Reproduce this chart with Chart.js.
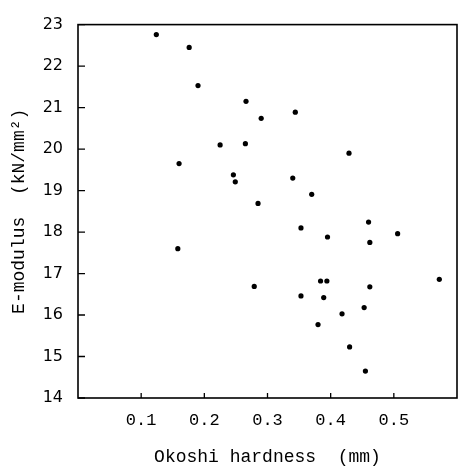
<!DOCTYPE html>
<html>
<head>
<meta charset="utf-8">
<script src="https://cdn.jsdelivr.net/npm/chart.js@4"></script>
<style>
  html, body { margin: 0; padding: 0; background: #fff; }
  #chart { display: block; }
</style>
</head>
<body>
<canvas id="chart" width="463" height="470"></canvas>
<script>
// values
const hardness = [
  0.124, 0.176, 0.19, 0.266, 0.29, 0.344, 0.225, 0.265, 0.16, 0.158, 0.246,
  0.249, 0.34, 0.37, 0.285, 0.353, 0.395, 0.429, 0.46, 0.506, 0.462, 0.279,
  0.384, 0.394, 0.353, 0.389, 0.38, 0.462, 0.453, 0.418, 0.572, 0.43, 0.455,
];
const modulus = [
  22.76, 22.45, 21.53, 21.15, 20.74, 20.89, 20.1, 20.13, 19.65, 17.6, 19.38,
  19.21, 19.3, 18.91, 18.69, 18.1, 17.88, 19.9, 18.24, 17.96, 17.75, 16.69,
  16.82, 16.82, 16.46, 16.42, 15.77, 16.68, 16.18, 16.03, 16.86, 15.23, 14.65,
];
const xTicks = [0.1, 0.2, 0.3, 0.4, 0.5];
const yTicks = [14, 15, 16, 17, 18, 19, 20, 21, 22, 23];

const mono = "'Liberation Mono', 'DejaVu Sans Mono', monospace";

// box round the plot, ticks pointing inwards
const frameAndTicks = {
  id: "frameAndTicks",
  afterDraw(chart) {
    const { ctx } = chart;
    const { left, right, top, bottom } = chart.chartArea;
    ctx.save();
    ctx.strokeStyle = "#000";
    ctx.lineWidth = 1.6;
    ctx.strokeRect(left, top, right - left, bottom - top);

    ctx.lineWidth = 1.3;
    ctx.beginPath();
    chart.scales.y.ticks.forEach((t) => {
      const py = chart.scales.y.getPixelForValue(t.value);
      ctx.moveTo(left, py);
      ctx.lineTo(left + 7, py);
    });
    chart.scales.x.ticks.forEach((t) => {
      const px = chart.scales.x.getPixelForValue(t.value);
      ctx.moveTo(px, bottom);
      ctx.lineTo(px, bottom - 5);
    });
    ctx.stroke();
    ctx.restore();
  },
};

new Chart(document.getElementById("chart"), {
  type: "scatter",
  data: {
    datasets: [
      {
        data: hardness.map((h, i) => ({ x: h, y: modulus[i] })),
        backgroundColor: "#000",
        borderColor: "#000",
        pointRadius: 2.6,
        borderWidth: 0,
      },
    ],
  },
  options: {
    responsive: false,
    animation: false,
    layout: { padding: { top: 15, right: 6, left: 0, bottom: 0 } },
    plugins: {
      legend: { display: false },
      tooltip: { enabled: false },
    },
    scales: {
      x: {
        type: "linear",
        min: 0,
        max: 0.6,
        afterBuildTicks: (scale) => {
          scale.ticks = xTicks.map((v) => ({ value: v }));
        },
        afterFit: (scale) => {
          scale.height = 72;
        },
        grid: { display: false, drawTicks: false },
        border: { display: false },
        ticks: {
          autoSkip: false,
          maxRotation: 0,
          padding: 12,
          color: "#000",
          font: { family: mono, size: 17 },
          callback: (v) => v.toFixed(1),
        },
        title: {
          display: true,
          text: "Okoshi hardness  (mm)",
          color: "#000",
          font: { family: mono, size: 18 },
          padding: { top: 0, bottom: 2 },
        },
      },
      y: {
        type: "linear",
        min: 14,
        max: 23,
        afterBuildTicks: (scale) => {
          scale.ticks = yTicks.map((v) => ({ value: v }));
        },
        afterFit: (scale) => {
          scale.width = 78;
        },
        grid: { display: false, drawTicks: false },
        border: { display: false },
        ticks: {
          autoSkip: false,
          padding: 15,
          color: "#000",
          font: { family: "'DejaVu Sans', sans-serif", size: 16 },
        },
        title: {
          display: true,
          text: "E-modulus  (kN/mm²)",
          color: "#000",
          font: { family: mono, size: 18 },
          padding: { top: 8, bottom: 0 },
        },
      },
    },
  },
  plugins: [frameAndTicks],
});
</script>
</body>
</html>
